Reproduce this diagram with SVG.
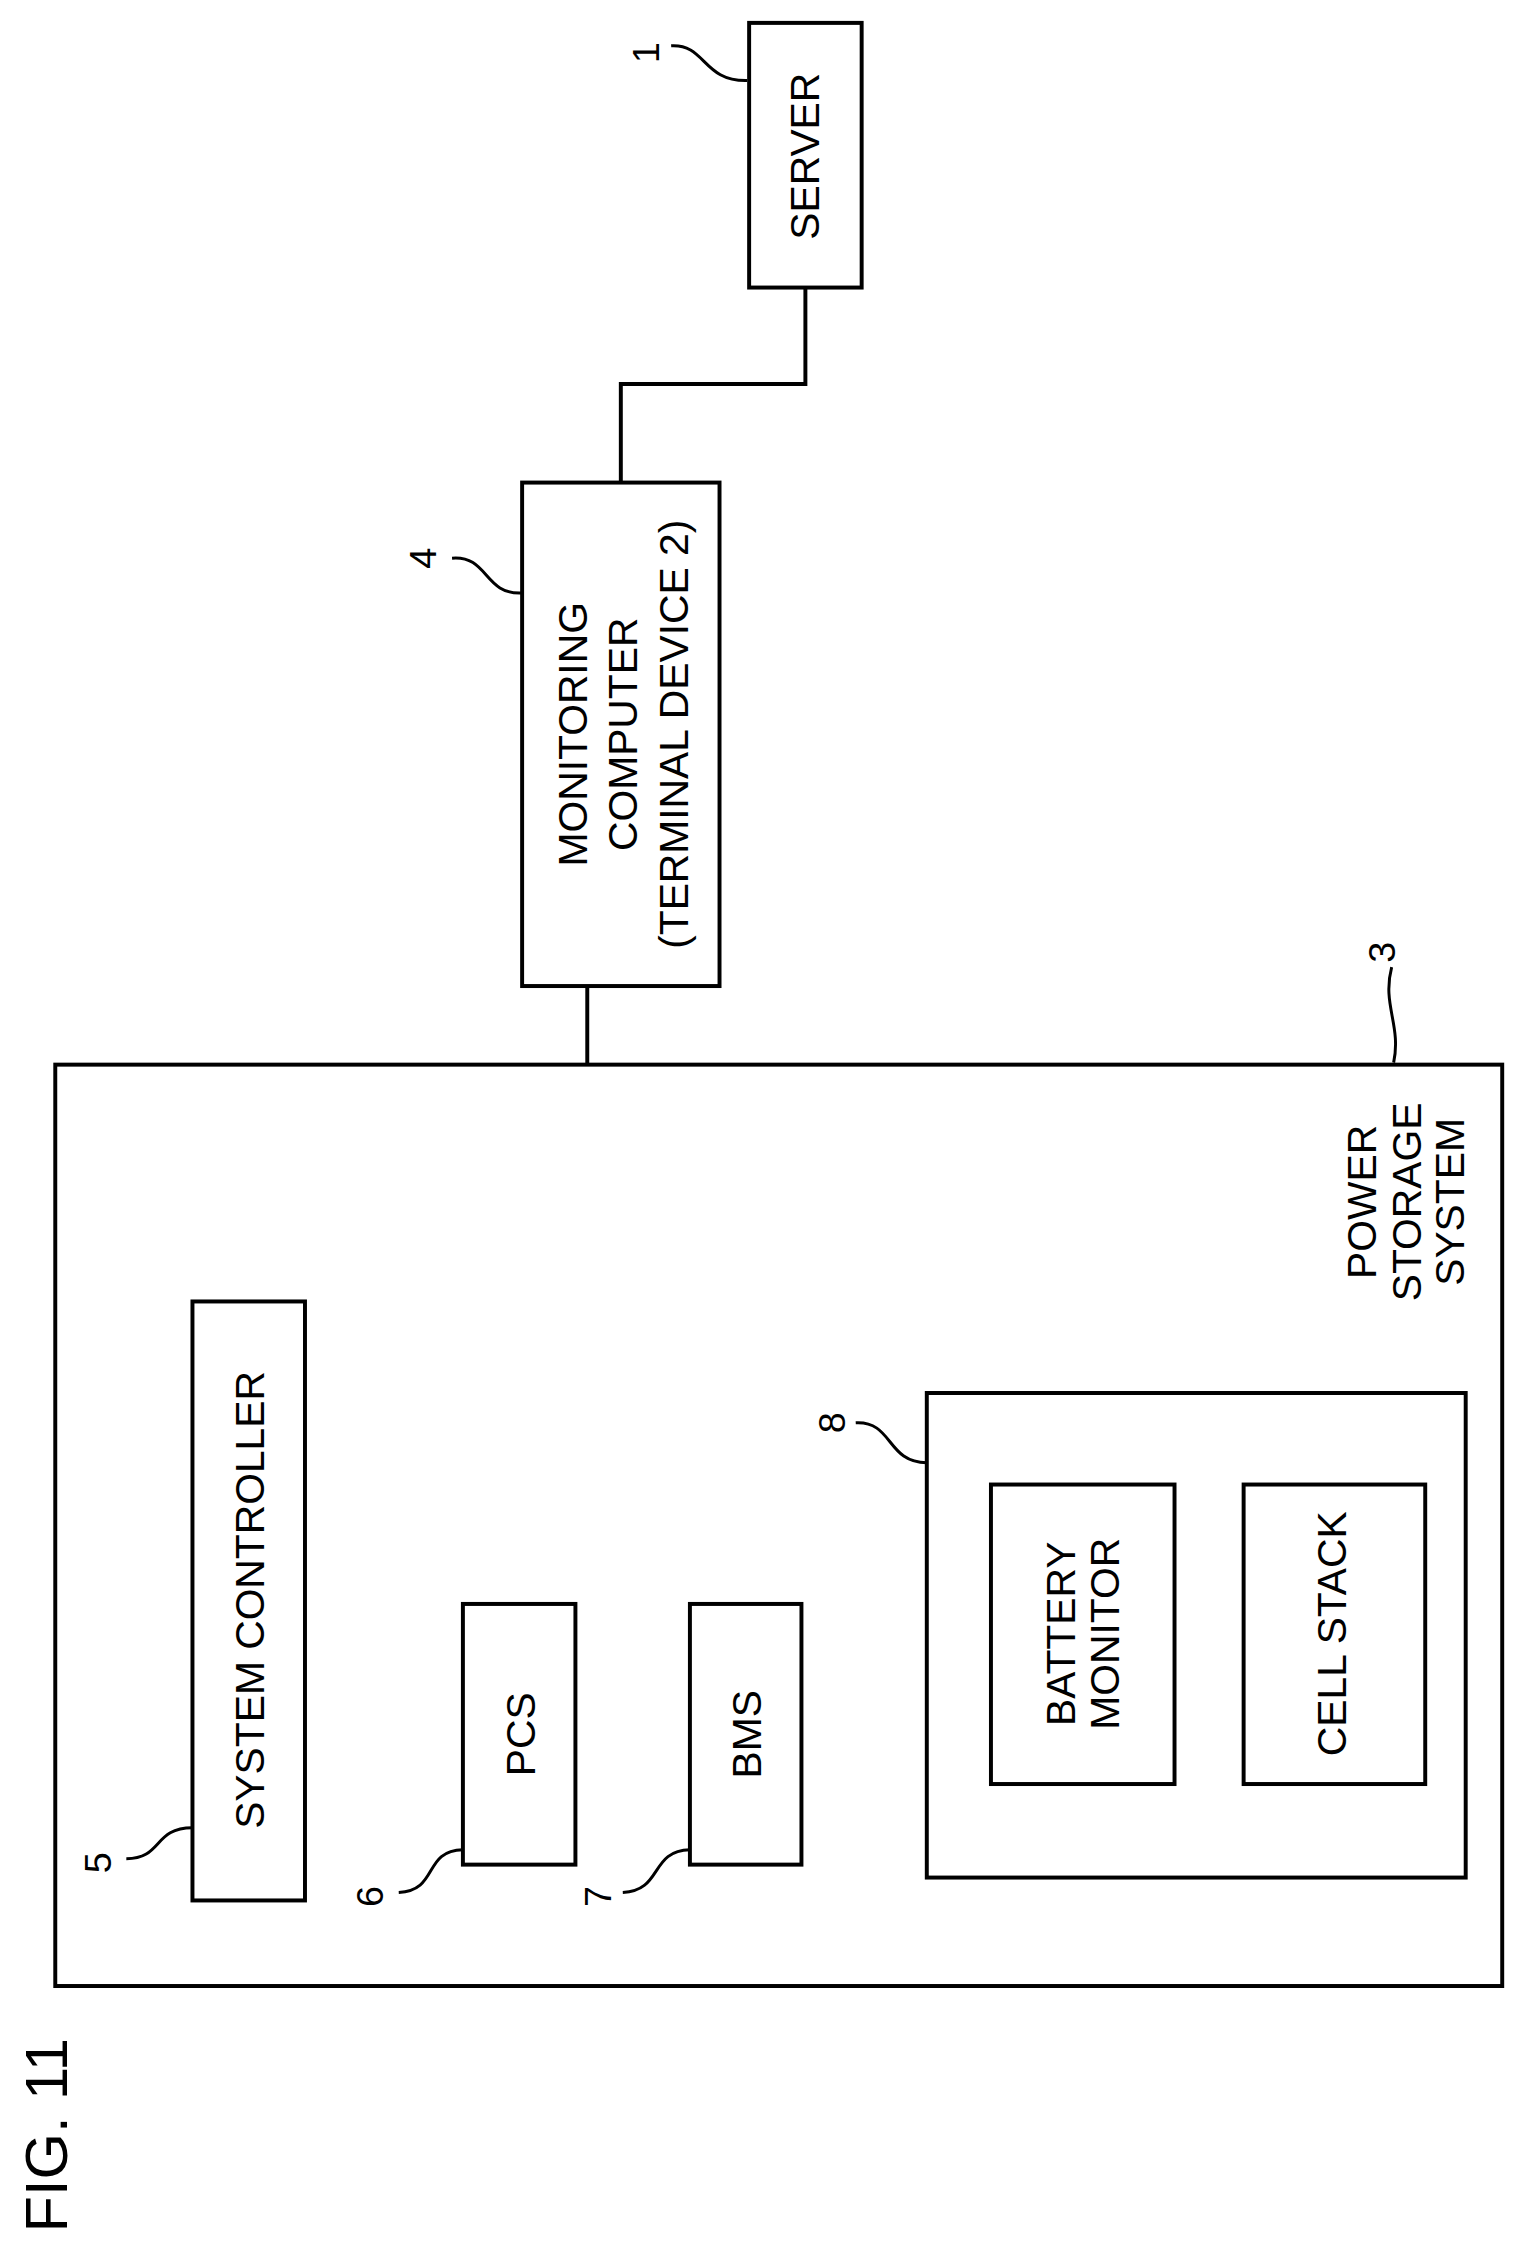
<svg xmlns="http://www.w3.org/2000/svg" width="1528" height="2262" viewBox="0 0 1528 2262">
<style>
.b{fill:none;stroke:#000;stroke-width:4}
.c{fill:none;stroke:#000;stroke-width:4}
.l{fill:none;stroke:#000;stroke-width:3}
text{font-family:"Liberation Sans",Arial,sans-serif;fill:#000;text-anchor:middle;dominant-baseline:central}
.t{font-size:41px}
.n{font-size:38px}
</style>
<rect width="1528" height="2262" fill="#fff"/>
<g transform="scale(0.987,0.995)">
<g id="connectors">
<polyline class="c" points="816,289 816,386 629,386 629,485"/>
<line class="c" x1="595" y1="991" x2="595" y2="1070"/>
</g>
<g id="server">
<rect class="b" x="759" y="23" width="114" height="266"/>
<text class="t" transform="translate(816,157) rotate(-90)">SERVER</text>
<text class="n" transform="translate(655,53) rotate(-90)">1</text>
<path class="l" d="M680,46 C715,44 712,82 757,81"/>
</g>
<g id="monitoring">
<rect class="b" x="529" y="485" width="200" height="506"/>
<text class="t" transform="translate(581,738) rotate(-90)">MONITORING</text>
<text class="t" transform="translate(631,738) rotate(-90)">COMPUTER</text>
<text class="t" transform="translate(683,738) rotate(-90)">(TERMINAL DEVICE 2)</text>
<text class="n" transform="translate(429,561) rotate(-90)">4</text>
<path class="l" d="M458,561 C495,558 490,598 529,596"/>
</g>
<g id="power-storage">
<rect class="b" x="56" y="1070" width="1466" height="926"/>
<text class="t" transform="translate(1380,1208) rotate(-90)">POWER</text>
<text class="t" transform="translate(1426,1208) rotate(-90)">STORAGE</text>
<text class="t" transform="translate(1469,1208) rotate(-90)">SYSTEM</text>
<text class="n" transform="translate(1400,957) rotate(-90)">3</text>
<path class="l" d="M1410,972 C1400,1010 1420,1030 1412,1068"/>
</g>
<g id="system-controller">
<rect class="b" x="195" y="1308" width="114" height="602"/>
<text class="t" transform="translate(253,1608) rotate(-90)">SYSTEM CONTROLLER</text>
<text class="n" transform="translate(99,1872) rotate(-90)">5</text>
<path class="l" d="M128,1868 C165,1868 155,1837 195,1837"/>
</g>
<g id="pcs">
<rect class="b" x="469" y="1612" width="114" height="262"/>
<text class="t" transform="translate(528,1743) rotate(-90)">PCS</text>
<text class="n" transform="translate(375,1906) rotate(-90)">6</text>
<path class="l" d="M404,1902 C445,1900 428,1860 469,1859"/>
</g>
<g id="bms">
<rect class="b" x="699" y="1612" width="113" height="262"/>
<text class="t" transform="translate(757,1743) rotate(-90)">BMS</text>
<text class="n" transform="translate(606,1906) rotate(-90)">7</text>
<path class="l" d="M631,1902 C672,1900 658,1860 699,1859"/>
</g>
<g id="battery-unit">
<rect class="b" x="939" y="1400" width="546" height="487"/>
<text class="n" transform="translate(843,1430) rotate(-90)">8</text>
<path class="l" d="M867,1430 C905,1428 898,1470 939,1470"/>
</g>
<g id="battery-monitor">
<rect class="b" x="1004" y="1492" width="186" height="301"/>
<text class="t" transform="translate(1075,1642) rotate(-90)">BATTERY</text>
<text class="t" transform="translate(1120,1642) rotate(-90)">MONITOR</text>
</g>
<g id="cell-stack">
<rect class="b" x="1260" y="1492" width="184" height="301"/>
<text class="t" transform="translate(1350,1642) rotate(-90)">CELL STACK</text>
</g>
<text style="font-size:60px" transform="translate(47,2146) rotate(-90)">FIG. 11</text>
</g>
</svg>
